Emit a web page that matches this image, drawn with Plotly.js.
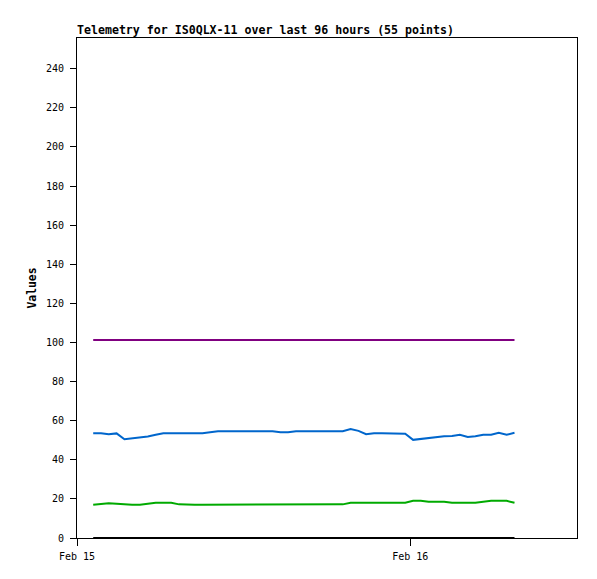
<!DOCTYPE html>
<html>
<head>
<meta charset="utf-8">
<script src="https://cdn.plot.ly/plotly-3.0.1.min.js"></script>
<style>html,body{margin:0;padding:0;background:#fff;}#chart{width:597px;height:579px;}</style>
</head>
<body>
<div id="chart"></div>
<script>
const times = [
"2024-02-15 01:10","2024-02-15 01:44","2024-02-15 02:17","2024-02-15 02:51","2024-02-15 03:25",
"2024-02-15 03:58","2024-02-15 04:32","2024-02-15 05:06","2024-02-15 05:40","2024-02-15 06:13",
"2024-02-15 06:47","2024-02-15 07:21","2024-02-15 07:54","2024-02-15 08:28","2024-02-15 09:02",
"2024-02-15 09:35","2024-02-15 10:09","2024-02-15 10:43","2024-02-15 11:17","2024-02-15 11:50",
"2024-02-15 12:24","2024-02-15 12:58","2024-02-15 13:31","2024-02-15 14:05","2024-02-15 14:39",
"2024-02-15 15:12","2024-02-15 15:46","2024-02-15 16:20","2024-02-15 16:54","2024-02-15 17:27",
"2024-02-15 18:01","2024-02-15 18:35","2024-02-15 19:08","2024-02-15 19:42","2024-02-15 20:16",
"2024-02-15 20:49","2024-02-15 21:23","2024-02-15 21:57","2024-02-15 22:31","2024-02-15 23:04",
"2024-02-15 23:38","2024-02-16 00:12","2024-02-16 00:45","2024-02-16 01:19","2024-02-16 01:53",
"2024-02-16 02:26","2024-02-16 03:00","2024-02-16 03:34","2024-02-16 04:08","2024-02-16 04:41",
"2024-02-16 05:15","2024-02-16 05:49","2024-02-16 06:22","2024-02-16 06:56","2024-02-16 07:30"
];
const purpleVals = [
101.3,101.3,101.3,101.3,101.3,101.3,101.3,101.3,101.3,101.3,
101.3,101.3,101.3,101.3,101.3,101.3,101.3,101.3,101.3,101.3,
101.3,101.3,101.3,101.3,101.3,101.3,101.3,101.3,101.3,101.3,
101.3,101.3,101.3,101.3,101.3,101.3,101.3,101.3,101.3,101.3,
101.3,101.3,101.3,101.3,101.3,101.3,101.3,101.3,101.3,101.3,
101.3,101.3,101.3,101.3,101.3
];
const blueVals = [
53.6,53.6,53.0,53.5,50.5,50.9,51.4,51.9,52.8,53.6,
53.6,53.6,53.6,53.6,53.6,54.1,54.6,54.6,54.6,54.6,
54.6,54.6,54.6,54.6,54.1,54.1,54.6,54.6,54.6,54.6,
54.6,54.6,54.6,55.7,54.8,53.1,53.6,53.6,53.6,53.6,
53.3,50.2,50.7,51.2,51.7,52.0,52.2,52.8,51.7,52.0,
52.8,52.8,53.8,52.8,53.8
];
const greenVals = [
17.0,17.5,17.8,17.5,17.2,17.0,17.0,17.5,18.0,18.0,
18.0,17.2,17.0,17.0,17.0,17.0,17.0,17.0,17.0,17.0,
17.0,17.0,17.0,17.0,17.0,17.0,17.0,17.0,17.0,17.0,
17.0,17.0,17.2,18.0,18.0,18.0,18.0,18.0,18.0,18.0,
18.0,19.0,19.0,18.5,18.5,18.5,18.0,18.0,18.0,18.0,
18.5,19.0,19.0,19.0,18.0
];
const blackVals = [
0,0,0,0,0,0,0,0,0,0,0,0,0,0,0,0,0,0,0,0,0,0,0,0,0,0,0,0,
0,0,0,0,0,0,0,0,0,0,0,0,0,0,0,0,0,0,0,0,0,0,0,0,0,0,0
];
const xTickVals = ["2024-02-15 00:00","2024-02-16 00:00"];
const xTickText = ["Feb 15","Feb 16"];
const yTickVals = [0,20,40,60,80,100,120,140,160,180,200,220,240];

const mono = "DejaVu Sans Mono, monospace";
function tr(y, color){
  return {x: times, y: y, type: "scatter", mode: "lines",
          line: {color: color, width: 2}, hoverinfo: "skip", showlegend: false};
}
const data = [
  tr(blackVals, "#000000"),
  tr(greenVals, "#00aa00"),
  tr(blueVals, "#0066cc"),
  tr(purpleVals, "#800080")
];
const layout = {
  width: 597, height: 579,
  margin: {l: 77, r: 20, t: 38, b: 41, pad: 0},
  paper_bgcolor: "#ffffff", plot_bgcolor: "#ffffff",
  font: {family: mono, size: 10, color: "#000"},
  showlegend: false,
  title: {text: "<b>Telemetry for IS0QLX-11 over last 96 hours (55 points)</b>",
          font: {family: mono, size: 11.6, color: "#000"},
          x: 77/597, xanchor: "left", xref: "container",
          y: 1 - 29.5/579, yanchor: "middle", yref: "container"},
  xaxis: {type: "date", range: ["2024-02-15 00:00", "2024-02-16 12:00"],
          tickvals: xTickVals, ticktext: xTickText,
          ticks: "outside", ticklen: 7, tickwidth: 1, tickcolor: "#000",
          ticklabelstandoff: 2,
          showgrid: false, zeroline: false,
          showline: true, linecolor: "#000", linewidth: 1, mirror: true,
          tickfont: {family: mono, size: 10, color: "#000"}},
  yaxis: {range: [0, 255.7], tickvals: yTickVals,
          ticks: "outside", ticklen: 6, tickwidth: 1, tickcolor: "#000",
          ticklabelstandoff: 4,
          showgrid: false, zeroline: false,
          showline: true, linecolor: "#000", linewidth: 1, mirror: true,
          tickfont: {family: mono, size: 10, color: "#000"},
          title: {text: "<b>Values</b>", font: {family: mono, size: 11.4, color: "#000"}, standoff: 6}}
};
Plotly.newPlot("chart", data, layout, {staticPlot: true, displayModeBar: false});
</script>
</body>
</html>
